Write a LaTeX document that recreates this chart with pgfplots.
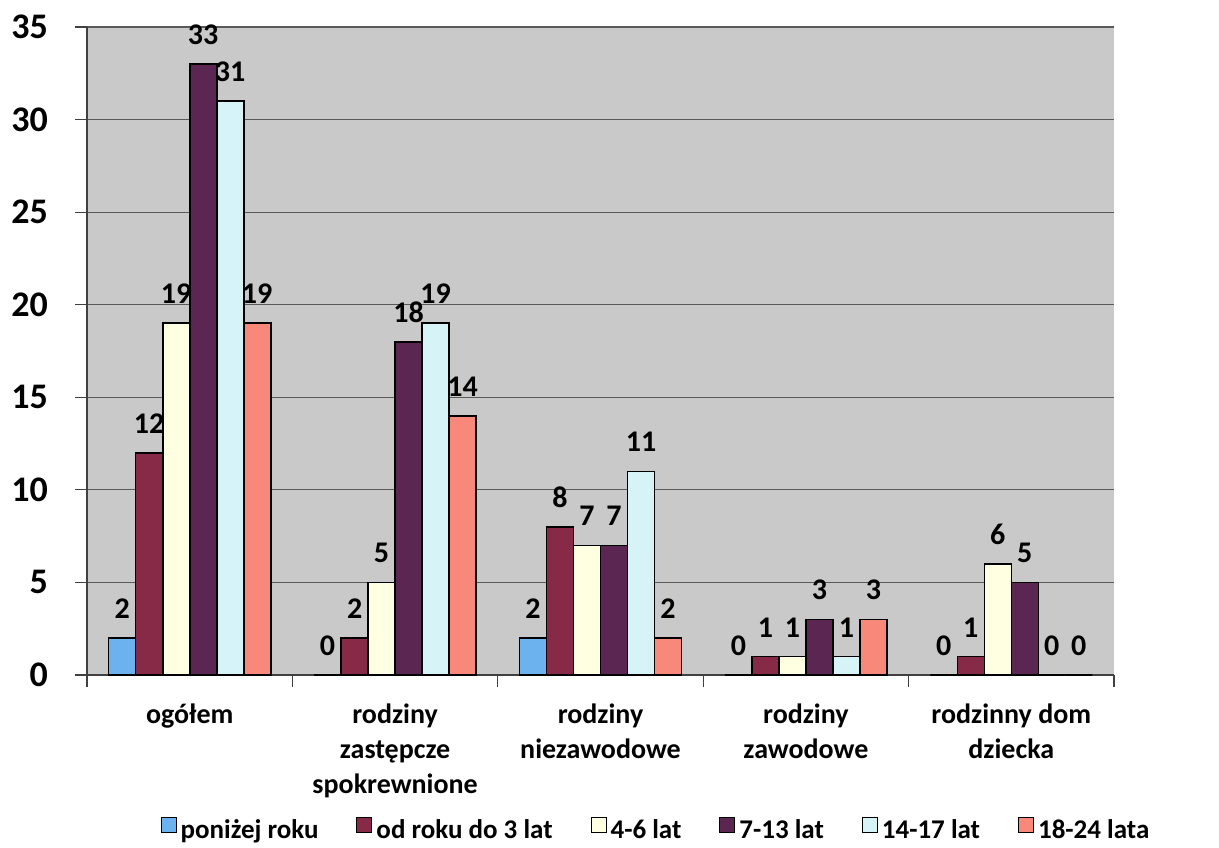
\documentclass[border=0pt]{standalone}
\usepackage{fontspec}
\setmainfont{Carlito}
\usepackage{pgfplots}
\pgfplotsset{compat=1.18}
\definecolor{cA}{HTML}{6CB2EE}
\definecolor{cB}{HTML}{862A48}
\definecolor{cC}{HTML}{FFFFE2}
\definecolor{cD}{HTML}{5C2652}
\definecolor{cE}{HTML}{D6F3F8}
\definecolor{cF}{HTML}{F8887A}
\definecolor{bg}{HTML}{C9C9C9}
\begin{document}
\begin{tikzpicture}
\begin{axis}[
  scale only axis, width=513.5pt, height=324pt,
  at={(0,0)}, anchor=south west,
  ybar=0pt, bar width=13.5pt,
  xmin=-0.5, xmax=4.5, ymin=0, ymax=35,
  ytick={0,5,...,35},
  xtick={0,1,2,3,4},
  xticklabels={ogółem,{rodziny\\zastępcze\\spokrewnione},{rodziny\\niezawodowe},{rodziny\\zawodowe},{rodzinny dom\\dziecka}},
  minor xtick={-0.5,0.5,...,4.5},
  xtick style={draw=none},
  minor x tick style={draw=black!75, line width=0.6pt},
  minor tick length=6pt,
  major tick length=6pt,
  tick align=outside,
  ytick style={draw=black!75, line width=0.6pt},
  axis background/.style={fill=bg},
  ymajorgrids, grid style={black!65, line width=0.6pt},
  axis line style={black!75, line width=0.7pt},
  axis x line*=bottom, axis y line*=left,
  /pgf/number format/assume math mode=true,
  yticklabel style={font=\fontsize{18}{18}\selectfont\bfseries, xshift=-10pt},
  xticklabel style={font=\fontsize{14}{17.5}\selectfont\bfseries, align=center, anchor=north, yshift=-5pt},
  every axis plot/.append style={draw=black, line width=0.8pt},
  nodes near coords,
  every node near coord/.append style={font=\fontsize{15}{15}\selectfont\bfseries, black, yshift=6pt},
  legend columns=6,
  legend style={at={(0.555,-0.24)}, anchor=center, draw=none, fill=none,
    font=\fontsize{13.5}{13.5}\selectfont\bfseries,
    /tikz/every even column/.append style={column sep=17pt}},
  legend image code/.code={\draw[#1, line width=0.5pt] (-2pt,-1pt) rectangle (5.5pt,6.5pt);},
]
\addplot[fill=cA] coordinates {(0,2) (1,0) (2,2) (3,0) (4,0)};
\addplot[fill=cB] coordinates {(0,12) (1,2) (2,8) (3,1) (4,1)};
\addplot[fill=cC] coordinates {(0,19) (1,5) (2,7) (3,1) (4,6)};
\addplot[fill=cD] coordinates {(0,33) (1,18) (2,7) (3,3) (4,5)};
\addplot[fill=cE] coordinates {(0,31) (1,19) (2,11) (3,1) (4,0)};
\addplot[fill=cF] coordinates {(0,19) (1,14) (2,2) (3,3) (4,0)};
\legend{poniżej roku,od roku do 3 lat,4-6 lat,7-13 lat,14-17 lat,18-24 lata}
\end{axis}
\pgfresetboundingbox
\path[use as bounding box] (-43.5pt,-86pt) rectangle (566pt,337.5pt);
\end{tikzpicture}
\end{document}
